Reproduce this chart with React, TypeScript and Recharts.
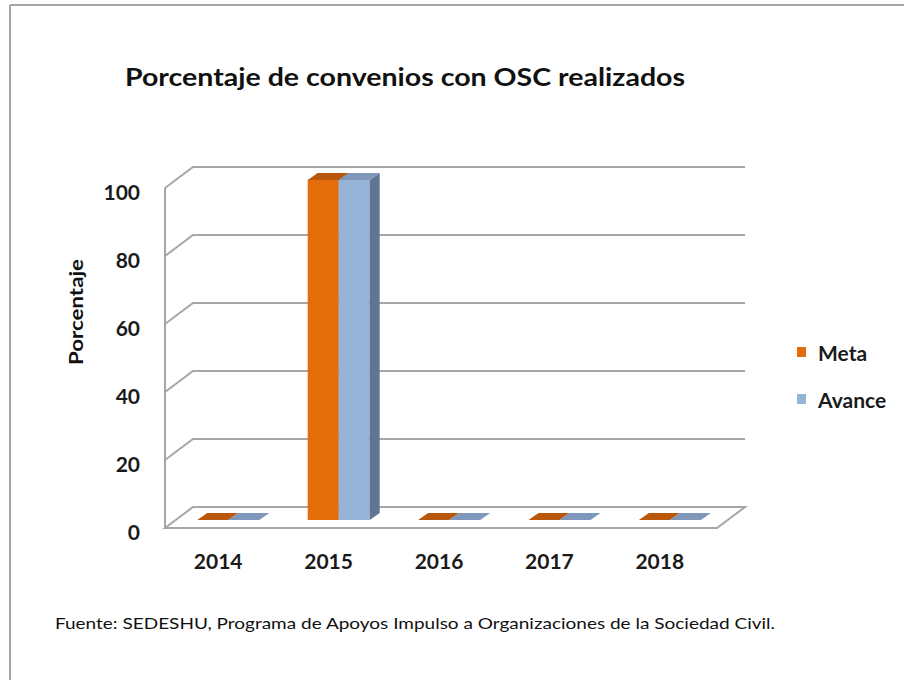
import React from 'react';
import { BarChart, Bar, XAxis, YAxis, CartesianGrid } from 'recharts';

const years = ['2014', '2015', '2016', '2017', '2018'];
const metaValues = [0, 100, 0, 0, 0];
const avanceValues = [0, 100, 0, 0, 0];
const yTicks = [0, 20, 40, 60, 80, 100];
const seriesNames = ['Meta', 'Avance'];
const seriesColors = ['#E46C0A', '#95B3D7'];
const titleText = 'Porcentaje de convenios con OSC realizados';
const yLabelText = 'Porcentaje';
const sourceText = 'Fuente: SEDESHU, Programa de Apoyos Impulso a Organizaciones de la Sociedad Civil.';

const data = years.map((y, i) => ({ year: y, meta: metaValues[i], avance: avanceValues[i] }));

const W = 904;
const H = 680;
const LEFT = 165;
const RIGHT = 717;
const TOP = 188;
const BOTTOM = 528;
const DX = 28;
const DY = -21;
const YAXIS_W = 60;
const XAXIS_H = 30;
const FONT = "Lato, 'Open Sans', sans-serif";
const GRID = '#a6a6a6';

const gridLine = (p: any) => {
  const { x1, y1, x2, key } = p;
  const isFloor = Math.abs(y1 - BOTTOM) < 1;
  let d: string;
  if (isFloor) {
    d = `M${x1},${y1} L${x2},${y1} L${x2 + DX},${y1 + DY} L${x1 + DX},${y1 + DY} Z`;
  } else {
    d = `M${x1},${y1} L${x1 + DX},${y1 + DY} L${x2 + DX},${y1 + DY}`;
  }
  return <path key={key} d={d} fill="none" stroke={GRID} strokeWidth={2} />;
};

const make3D = (front: string, top: string, side: string) => (p: any) => {
  const { x, y, width: w, height: h } = p;
  const bx = x + 8;
  const by = y - 8;
  const ox = 10;
  const oy = -7;
  const hh = Math.max(h, 0);
  return (
    <g>
      {hh > 0 && <rect x={bx} y={by} width={w} height={hh} fill={front} />}
      {hh > 0 && (
        <path
          d={`M${bx + w},${by} L${bx + w + ox},${by + oy} L${bx + w + ox},${by + hh + oy} L${bx + w},${by + hh} Z`}
          fill={side}
        />
      )}
      <path
        d={`M${bx},${by} L${bx + w},${by} L${bx + w + ox},${by + oy} L${bx + ox},${by + oy} Z`}
        fill={top}
      />
    </g>
  );
};

const YTick = (p: any) => (
  <text x={140} y={p.y + 3} textAnchor="end" dominantBaseline="central" fontFamily={FONT} fontWeight={700} fontSize={21} fill="#1a1a1a">
    {p.payload.value}
  </text>
);

const XTick = (p: any) => (
  <text x={p.x - 2} y={560} textAnchor="middle" dominantBaseline="central" fontFamily={FONT} fontWeight={700} fontSize={21} fill="#1a1a1a">
    {p.payload.value}
  </text>
);

export default function App() {
  return (
    <div style={{ position: 'absolute', left: 0, top: 0, width: W, height: H, background: '#fff' }}>
      <BarChart
        width={W}
        height={H}
        data={data}
        margin={{ top: TOP, bottom: H - BOTTOM - XAXIS_H, left: LEFT - YAXIS_W, right: W - RIGHT }}
        barCategoryGap="22%"
        barGap={0}
      >
        <CartesianGrid vertical={false} horizontal={gridLine} />
        <XAxis dataKey="year" axisLine={false} tickLine={false} tick={XTick} height={XAXIS_H} interval={0} />
        <YAxis
          domain={[0, 100]}
          ticks={yTicks}
          width={YAXIS_W}
          tickLine={false}
          axisLine={{ stroke: GRID, strokeWidth: 2 }}
          tick={YTick}
          interval={0}
        />
        <Bar dataKey="meta" name={seriesNames[0]} fill={seriesColors[0]} isAnimationActive={false} shape={make3D(seriesColors[0], '#B9570B', '#A84E0A')} />
        <Bar dataKey="avance" name={seriesNames[1]} fill={seriesColors[1]} isAnimationActive={false} shape={make3D(seriesColors[1], '#7E97BA', '#5F7593')} />
      </BarChart>
      <div style={{ position: 'absolute', left: 797, top: 340, fontFamily: FONT, fontWeight: 700, fontSize: 21, color: '#1a1a1a' }}>
        {seriesNames.map((n, i) => (
          <div key={n} style={{ display: 'flex', alignItems: 'center', height: 24, marginBottom: i === 0 ? 23 : 0 }}>
            <span style={{ display: 'inline-block', width: 9, height: 10, background: seriesColors[i], marginRight: 12 }} />
            <span>{n}</span>
          </div>
        ))}
      </div>
      <svg width={W} height={H} style={{ position: 'absolute', left: 0, top: 0, pointerEvents: 'none' }}>
        <line x1={10} y1={5} x2={W} y2={5} stroke={GRID} strokeWidth={2} />
        <line x1={10} y1={5} x2={10} y2={H} stroke={GRID} strokeWidth={2} />
        <text x={125} y={76} dominantBaseline="central" fontFamily={FONT} fontWeight={700} fontSize={25} fill="#111" textLength={560} lengthAdjust="spacingAndGlyphs">
          {titleText}
        </text>
        <text
          x={75}
          y={312}
          transform="rotate(-90 75 312)"
          textAnchor="middle"
          dominantBaseline="central"
          fontFamily={FONT}
          fontWeight={700}
          fontSize={19}
          fill="#111"
          textLength={106}
          lengthAdjust="spacingAndGlyphs"
        >
          {yLabelText}
        </text>
        <text x={55} y={622} dominantBaseline="central" fontFamily={FONT} fontSize={16} fill="#111" textLength={720} lengthAdjust="spacingAndGlyphs">
          {sourceText}
        </text>
      </svg>
    </div>
  );
}
